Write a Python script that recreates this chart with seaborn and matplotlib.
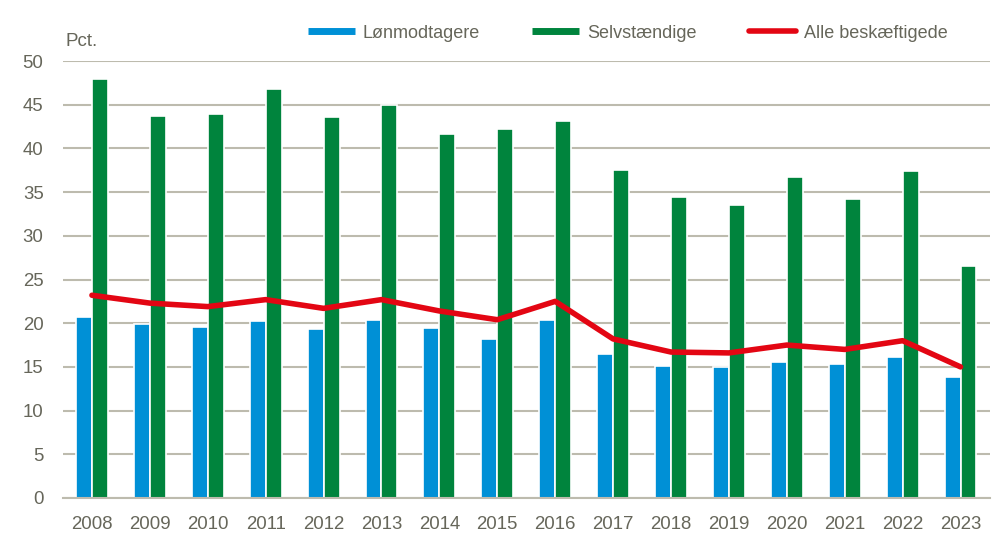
import matplotlib
matplotlib.use("Agg")
import matplotlib.pyplot as plt
import seaborn as sns
import pandas as pd
from matplotlib.lines import Line2D

years = [str(y) for y in range(2008, 2024)]
loenmodtagere = [20.7, 19.9, 19.6, 20.2, 19.3, 20.4, 19.4, 18.2, 20.4, 16.5, 15.1, 15.0, 15.6, 15.3, 16.1, 13.9]
selvstaendige = [48.0, 43.7, 43.9, 46.8, 43.6, 45.0, 41.6, 42.2, 43.2, 37.5, 34.4, 33.5, 36.7, 34.2, 37.4, 26.6]
alle = [23.2, 22.3, 21.9, 22.7, 21.7, 22.7, 21.4, 20.4, 22.5, 18.2, 16.7, 16.6, 17.5, 17.0, 18.0, 15.0]
series_names = ["Lønmodtagere", "Selvstændige", "Alle beskæftigede"]

BLUE = "#0090D6"
GREEN = "#00843D"
RED = "#E30613"
TEXT = "#66665A"
GRID = "#BDBBAE"

sns.set_theme(style="white")
plt.rcParams["font.family"] = ["Liberation Sans Narrow", "Liberation Sans", "DejaVu Sans"]

bars = pd.DataFrame({
    "year": years * 2,
    "value": loenmodtagere + selvstaendige,
    "series": [series_names[0]] * len(years) + [series_names[1]] * len(years),
})
line = pd.DataFrame({"year": years, "value": alle})

fig = plt.figure(figsize=(9.92, 5.36), dpi=100)
ax = fig.add_axes([0.0635, 0.071, 0.934, 0.815])

sns.barplot(data=bars, x="year", y="value", hue="series", order=years,
            palette=[BLUE, GREEN], saturation=1, width=0.55,
            edgecolor="white", linewidth=1.2, legend=False, ax=ax, zorder=2)
sns.pointplot(data=line, x="year", y="value", order=years, color=RED,
              marker="", linewidth=4, errorbar=None, ax=ax, zorder=3)

ax.set_ylim(0, 50)
ax.set_xlim(-0.5, len(years) - 0.5)
ax.set_yticks(range(0, 51, 5))
ax.yaxis.grid(True, color=GRID, linewidth=1.5, zorder=0)
ax.set_axisbelow(True)
ax.set_xlabel("")
ax.set_ylabel("")
for s in ["top", "right", "left"]:
    ax.spines[s].set_visible(False)
ax.spines["bottom"].set_color(GRID)
ax.spines["bottom"].set_linewidth(1.5)
ax.tick_params(axis="both", length=0, labelsize=13.4, colors=TEXT)
ax.tick_params(axis="y", pad=14)
ax.tick_params(axis="x", pad=13)

ax.text(0.003, 1.025, "Pct.", transform=ax.transAxes, fontsize=13.5,
        color=TEXT, ha="left", va="bottom")

handles = [Line2D([0], [0], color=BLUE, lw=5, solid_capstyle="butt"),
           Line2D([0], [0], color=GREEN, lw=5, solid_capstyle="butt"),
           Line2D([0], [0], color=RED, lw=4, solid_capstyle="round")]
leg = fig.legend(handles, series_names, loc="center", bbox_to_anchor=(0.633, 0.938),
                 ncol=3, frameon=False, fontsize=13, handlelength=2.6,
                 handletextpad=0.45, columnspacing=2.9)
for t in leg.get_texts():
    t.set_color(TEXT)

fig.savefig("out.png", dpi=100)
